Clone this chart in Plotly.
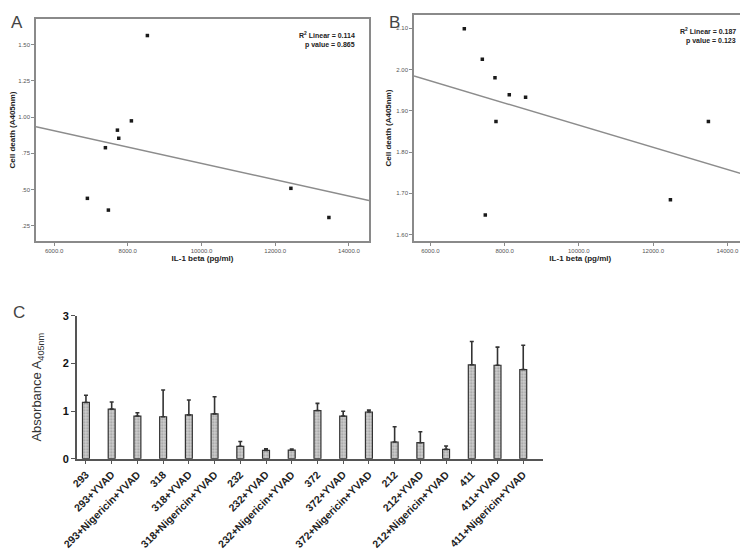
import plotly.graph_objects as go
import numpy as np

# Panel A: IL-1 beta vs cell death
il1b_a = [8532, 8098, 7719, 7755, 7393, 6904, 7474, 12426, 13457]
death_a = [1.562, 0.974, 0.910, 0.854, 0.789, 0.440, 0.359, 0.509, 0.308]

# Panel B
il1b_b = [6915, 7400, 7741, 8126, 8565, 7768, 7480, 12466, 13489]
death_b = [2.099, 2.025, 1.980, 1.939, 1.933, 1.874, 1.647, 1.684, 1.874]

# Panel C: absorbance bars with upper error
groups = ["293", "293+YVAD", "293+Nigericin+YVAD",
          "318", "318+YVAD", "318+Nigericin+YVAD",
          "232", "232+YVAD", "232+Nigericin+YVAD",
          "372", "372+YVAD", "372+Nigericin+YVAD",
          "212", "212+YVAD", "212+Nigericin+YVAD",
          "411", "411+YVAD", "411+Nigericin+YVAD"]
absorb = [1.18, 1.04, 0.895, 0.88, 0.92, 0.94, 0.26, 0.175, 0.18,
          1.01, 0.895, 0.98, 0.35, 0.336, 0.196, 1.97, 1.96, 1.87]
err_up = [0.15, 0.15, 0.07, 0.56, 0.31, 0.36, 0.10, 0.035, 0.02,
          0.15, 0.10, 0.04, 0.32, 0.23, 0.07, 0.49, 0.38, 0.51]

W, H = 748, 551
OFF = 8  # page body margin
def dx(a, b): return [(a - OFF) / W, (b - OFF) / W]
def dy(top, bot): return [1 - (bot - OFF) / H, 1 - (top - OFF) / H]
def px(x): return (x - OFF) / W
def py(y): return 1 - (y - OFF) / H

FRAME = "#8a8a8a"
fig = go.Figure()

rng_a = [5510, 14545]
rng_b = [5560, 14515]

for xs, ys, rng, xa, ya in [(il1b_a, death_a, rng_a, "x", "y"),
                            (il1b_b, death_b, rng_b, "x2", "y2")]:
    k, c = np.polyfit(xs, ys, 1)
    fig.add_trace(go.Scatter(x=rng, y=[k * rng[0] + c, k * rng[1] + c], mode="lines",
                             line=dict(color="#8c8c8c", width=1.5), xaxis=xa, yaxis=ya,
                             showlegend=False, hoverinfo="skip"))
    fig.add_trace(go.Scatter(x=xs, y=ys, mode="markers",
                             marker=dict(symbol="square", size=3.5, color="#1a1a1a"),
                             xaxis=xa, yaxis=ya, showlegend=False))

fig.add_trace(go.Bar(x=groups, y=absorb, width=0.27, xaxis="x3", yaxis="y3",
                     marker=dict(color="#cfcfcf",
                                 pattern=dict(shape=".", fgcolor="#666", size=3, solidity=0.35),
                                 line=dict(color="#333", width=1.2)),
                     error_y=dict(type="data", symmetric=False, array=err_up,
                                  arrayminus=[0] * len(err_up), color="#333",
                                  thickness=1.6, width=2),
                     showlegend=False))

small = dict(family="Liberation Sans, Arial", size=6, color="#555")
ttl = dict(family="Liberation Sans, Arial", size=8, color="#222")
sc_x = dict(showline=True, mirror=True, linecolor=FRAME, linewidth=1.5, ticks="outside",
            ticklen=3, tickcolor=FRAME, showgrid=False, zeroline=False, automargin=False,
            tickvals=[6000, 8000, 10000, 12000, 14000],
            ticktext=["6000.0", "8000.0", "10000.0", "12000.0", "14000.0"],
            tickfont=small, title=dict(text="<b>IL-1 beta (pg/ml)</b>", font=ttl, standoff=2))
sc_y = dict(showline=True, mirror=True, linecolor=FRAME, linewidth=1.5, ticks="outside",
            ticklen=3, tickcolor=FRAME, showgrid=False, zeroline=False, tickfont=small,
            automargin=False,
            title=dict(text="<b>Cell death (A405nm)</b>", font=ttl, standoff=4))

fig.update_layout(
    width=W, height=H, margin=dict(l=0, r=0, t=0, b=0),
    plot_bgcolor="white", paper_bgcolor="white",
    xaxis=dict(sc_x, domain=dx(36, 369), range=rng_a, anchor="y"),
    yaxis=dict(sc_y, domain=dy(19, 241), range=[0.146, 1.676], anchor="x",
               tickvals=[0.25, 0.5, 0.75, 1.0, 1.25, 1.5],
               ticktext=[".25", ".50", ".75", "1.00", "1.25", "1.50"]),
    xaxis2=dict(sc_x, domain=dx(414, 746.5), range=rng_b, anchor="y2"),
    yaxis2=dict(sc_y, domain=dy(15, 241), range=[1.584, 2.1325], anchor="x2",
                tickvals=[1.6, 1.7, 1.8, 1.9, 2.0, 2.1],
                ticktext=["1.60", "1.70", "1.80", "1.90", "2.00", "2.10"]),
    xaxis3=dict(domain=dx(76.7, 543.3), range=[-0.36, 17.78], anchor="y3",
                showline=True, linecolor="#555", linewidth=1.5, ticks="outside",
                ticklen=4, tickcolor="#555", tickangle=-45, showgrid=False, automargin=False,
                tickfont=dict(family="Liberation Sans, Arial", size=10.5, color="#222",
                              weight="bold")),
    yaxis3=dict(domain=dy(315.7, 458.7), range=[0, 3], anchor="x3",
                showline=True, linecolor="#555", linewidth=1.5, ticks="outside",
                ticklen=4, tickcolor="#555", showgrid=False, zeroline=False, automargin=False,
                tickvals=[0, 1, 2, 3], ticktext=["<b>0</b>", "<b>1</b>", "<b>2</b>", "<b>3</b>"],
                tickfont=dict(family="Liberation Sans, Arial", size=11, color="#111"),
                title=dict(text="Absorbance A<sub>405nm</sub>", standoff=18,
                           font=dict(family="Liberation Sans, Arial", size=13, color="#333"))),
)

ann = dict(family="Liberation Sans, Arial", size=7, color="#222")
fig.add_annotation(text="<b>R<sup>2</sup> Linear = 0.114</b>", x=px(357), y=py(29),
                   xref="paper", yref="paper", xanchor="right", showarrow=False, font=ann)
fig.add_annotation(text="<b>p value = 0.865</b>", x=px(357), y=py(39),
                   xref="paper", yref="paper", xanchor="right", showarrow=False, font=ann)
fig.add_annotation(text="<b>R<sup>2</sup> Linear = 0.187</b>", x=px(738), y=py(25),
                   xref="paper", yref="paper", xanchor="right", showarrow=False, font=ann)
fig.add_annotation(text="<b>p value = 0.123</b>", x=px(738), y=py(35),
                   xref="paper", yref="paper", xanchor="right", showarrow=False, font=ann)

panel = dict(family="Liberation Sans, Arial", size=17, color="#444")
for lab, lx, ly in [("A", 9, 11), ("B", 395, 11), ("C", 11, 312)]:
    fig.add_annotation(text=lab, x=px(lx), y=py(ly), xref="paper", yref="paper",
                       showarrow=False, font=panel)

fig.write_html("out.html")
